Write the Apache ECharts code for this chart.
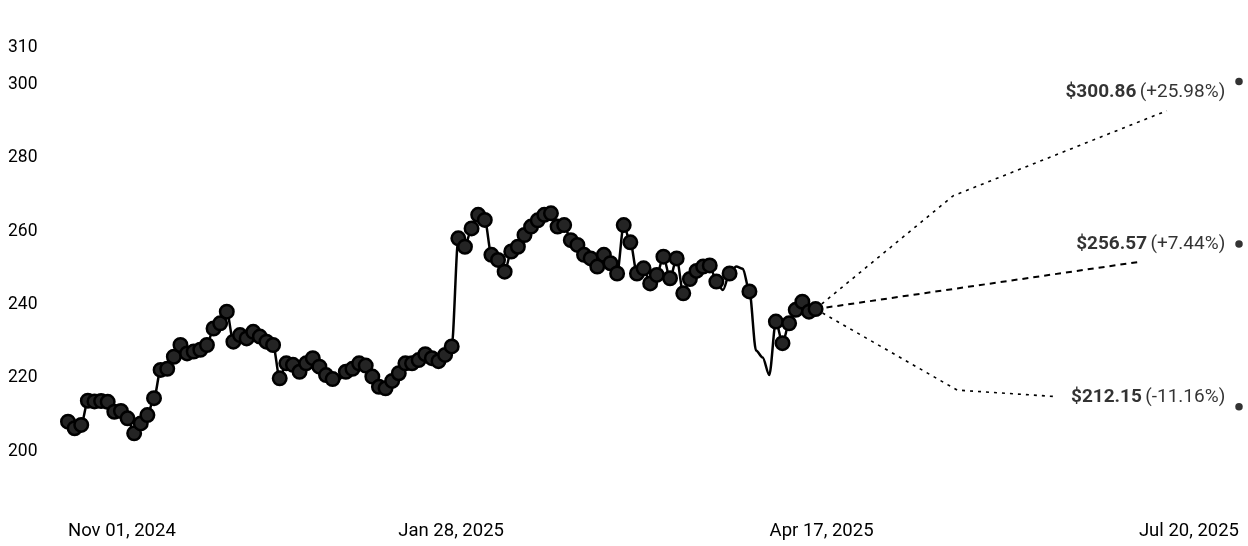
<!DOCTYPE html>
<html>
<head>
<meta charset="utf-8">
<script src="https://cdn.jsdelivr.net/npm/echarts@6/dist/echarts.min.js"></script>
<style>
html,body{margin:0;padding:0;background:#fff;}
#c{width:1248px;height:546px;}
</style>
</head>
<body>
<div id="c"></div>
<script>
// ---- data ----
// trading-day index 0 = Nov 01, 2024 ... 113 = Apr 17, 2025
const prices = [
  208.1, 206.3, 207.2, 213.8, 213.6, 213.7, 213.5, 210.8, 211.0, 209.0,
  204.9, 207.6, 209.9, 214.5, 222.2, 222.5, 225.8, 229.0, 226.7, 227.2,
  227.7, 229.0, 233.5, 234.9, 238.1, 229.9, 231.7, 230.8, 232.6, 231.3,
  229.9, 229.0, 219.9, 224.0, 223.6, 221.7, 224.0, 225.4, 223.1, 220.8,
  219.7, 219.6, 221.7, 222.5, 224.0, 223.4, 220.4, 217.6, 217.2, 219.2,
  221.3, 224.0, 224.0, 224.9, 226.5, 225.4, 224.6, 226.3, 228.6, 258.1,
  255.8, 260.8, 264.5, 263.1, 253.6, 252.2, 249.0, 254.5, 255.8, 259.0,
  261.3, 263.0, 264.5, 264.9, 261.3, 261.7, 257.6, 256.3, 253.6, 252.6,
  250.4, 253.6, 251.3, 248.5, 261.7, 257.0, 248.5, 249.9, 245.8, 248.1,
  253.1, 247.2, 252.6, 243.1, 247.0, 249.2, 250.4, 250.7, 246.3, 244.0,
  248.5, 250.4, 249.8, 243.6, 227.5, 225.6, 220.8, 235.4, 229.5, 234.9,
  238.6, 240.8, 238.1, 238.8
];
const noMarkerIdx = [41, 99, 101, 102, 104, 105, 106];

const xTickIdx = [0, 57, 113, 177];
const xTickLabels = ['Nov 01, 2024', 'Jan 28, 2025', 'Apr 17, 2025', 'Jul 20, 2025'];
const yTicks = [200, 220, 240, 260, 280, 300, 310];

// forecast paths: [index, value]
const forecastHigh = [[113, 238.8], [133.8, 269.7], [166.1, 292.9]];
const forecastMid  = [[113, 238.8], [162.0, 251.7]];
const forecastLow  = [[113, 238.8], [134.4, 216.7], [149.6, 214.9]];
const forecastEndIdx = 177;
const targetValues = [300.86, 256.57, 212.15];
const targetPrice = ['$300.86', '$256.57', '$212.15'];
const targetPct = ['(+25.98%)', '(+7.44%)', '(-11.16%)'];

// ---- chart ----
const FONT = 'Roboto, "Noto Sans", Arial, sans-serif';
const histData = prices.map((v, i) => {
  const d = { value: [i, v] };
  if (noMarkerIdx.indexOf(i) >= 0) d.symbol = 'none';
  return d;
});
const labelOffsets = [[0, 11], [0, 0], [0, -10]];
const endData = targetValues.map((v, i) => ({
  value: [forecastEndIdx, v],
  label: {
    offset: labelOffsets[i],
    formatter: '{b|' + targetPrice[i] + '} {n|' + targetPct[i] + '}'
  }
}));

const chart = echarts.init(document.getElementById('c'), null, { renderer: 'canvas' });
chart.setOption({
  animation: false,
  backgroundColor: '#fff',
  grid: { left: 68, right: 9, top: 48, bottom: 58 },
  xAxis: {
    type: 'value', min: 0, max: forecastEndIdx,
    axisLine: { show: false }, axisTick: { show: false }, splitLine: { show: false },
    axisLabel: {
      customValues: xTickIdx,
      margin: 34,
      fontSize: 18.5,
      fontFamily: FONT,
      color: '#000',
      alignMinLabel: 'left',
      alignMaxLabel: 'right',
      formatter: function (v) {
        const k = xTickIdx.indexOf(v);
        if (k < 0) return '';
        if (k === 0 || k === xTickIdx.length - 1) return xTickLabels[k];
        return '{s|' + xTickLabels[k] + '}';
      },
      rich: { s: { fontSize: 18.5, fontFamily: FONT, color: '#000', padding: [0, 0, 0, 12] } }
    }
  },
  yAxis: {
    type: 'value', min: 190, max: 310,
    axisLine: { show: false }, axisTick: { show: false }, splitLine: { show: false },
    axisLabel: {
      customValues: yTicks,
      align: 'left',
      margin: 60,
      fontSize: 17.5,
      fontFamily: FONT,
      color: '#000'
    }
  },
  series: [
    {
      type: 'line', data: forecastHigh, symbol: 'none',
      lineStyle: { color: '#000', width: 1.6, type: [3, 5] }, z: 1
    },
    {
      type: 'line', data: forecastMid, symbol: 'none',
      lineStyle: { color: '#000', width: 2, type: [6, 5] }, z: 1
    },
    {
      type: 'line', data: forecastLow, symbol: 'none',
      lineStyle: { color: '#000', width: 1.6, type: [3, 5] }, z: 1
    },
    {
      type: 'line', data: histData,
      smooth: 0.3, smoothMonotone: 'x',
      symbol: 'circle', symbolSize: 13.5, showAllSymbol: true,
      lineStyle: { color: '#000', width: 2.5 },
      itemStyle: { color: '#242424', borderColor: '#000', borderWidth: 2.5 },
      z: 3
    },
    {
      type: 'scatter', data: endData, symbolSize: 7.5,
      itemStyle: { color: '#000' },
      label: {
        show: true, position: 'left', distance: 10, color: '#000',
        rich: {
          b: { fontSize: 19, fontWeight: 'bold', fontFamily: FONT, color: '#000' },
          n: { fontSize: 19, fontFamily: FONT, color: '#000' }
        }
      },
      z: 4
    }
  ]
});
</script>
</body>
</html>
